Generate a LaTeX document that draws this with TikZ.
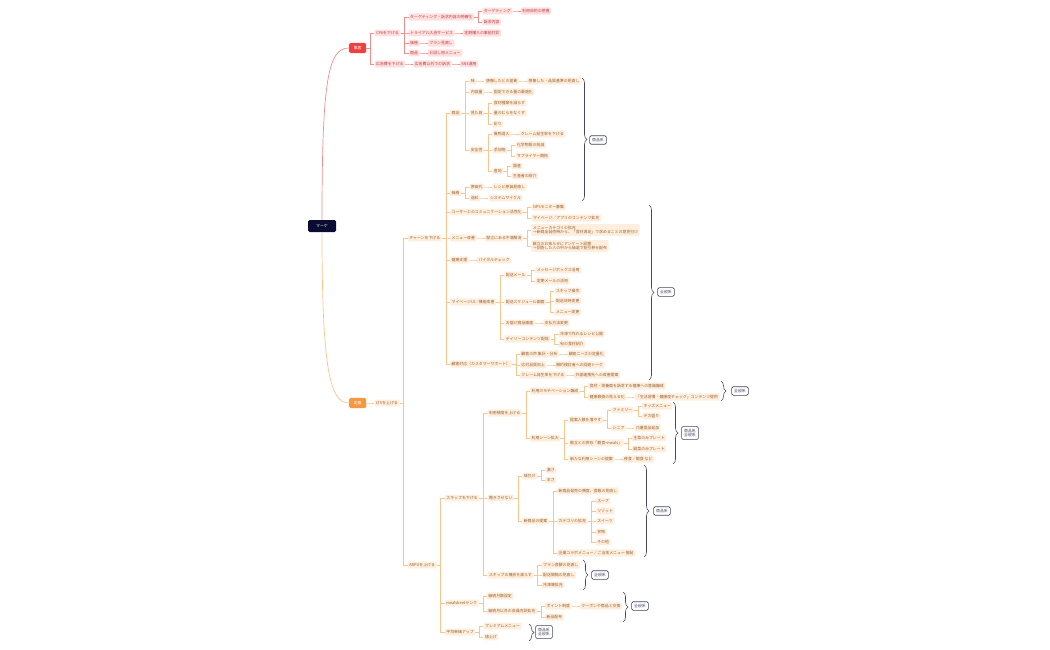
\documentclass[tikz,border=0pt]{standalone}
\usepackage{fontspec}
\setmainfont{Noto Sans CJK JP}
\usepackage{xcolor}
\usetikzlibrary{calc,decorations.pathreplacing}

\definecolor{redmain}{RGB}{238,64,64}
\definecolor{redfill}{RGB}{255,224,224}
\definecolor{redtext}{RGB}{190,60,60}
\definecolor{redline}{RGB}{245,140,140}
\definecolor{ormain}{RGB}{246,152,62}
\definecolor{orfill}{RGB}{254,238,222}
\definecolor{ortext}{RGB}{150,95,45}
\definecolor{orline}{RGB}{250,196,142}
\definecolor{navy}{RGB}{10,12,52}
\definecolor{tagline}{RGB}{70,70,100}

\tikzset{
  rb/.style={fill=redfill, text=redtext, rounded corners=1pt, inner xsep=1.5pt, inner ysep=1.7pt, anchor=west},
  ob/.style={fill=orfill, text=ortext, rounded corners=1pt, inner xsep=1.5pt, inner ysep=1.7pt, anchor=west, align=left},
  rb line/.style={draw=redline, line width=.45pt},
  ob line/.style={draw=orline, line width=.45pt},
  tag/.style={draw=tagline, fill=white, text=tagline, rounded corners=1.5pt, line width=.6pt, inner sep=2.5pt, align=center},
  grp/.style={draw=tagline, line width=.6pt, decorate, decoration={brace, amplitude=5pt}},
}
% child node right of its parent, joined by an elbow
\newcommand\kid[5][ob]{%
  \coordinate (tmp) at ([xshift=8pt]#3.east);
  \node[#1] (#2) at (tmp |- 0,#4) {#5};
  \draw[#1 line] (#3.east) -- ++(4pt,0) |- (#2.west);}

\begin{document}
\begin{tikzpicture}[x=1pt, y=-1pt, font=\fontsize{3.9}{4.7}\selectfont]
\useasboundingbox (0,0) rectangle (1050,650);

% root and main branches
\node[fill=navy, text=white, rounded corners=1.5pt, minimum width=28pt, minimum height=12pt] (root) at (322,226) {マーケ};
\node[fill=redmain, text=white, rounded corners=1.5pt, minimum width=17pt, minimum height=10pt, anchor=west] (A) at (349,48) {集客};
\node[fill=ormain, text=white, rounded corners=1.5pt, minimum width=17pt, minimum height=10pt, anchor=west] (B) at (349,403) {定着};
\draw[rb line, line width=.7pt] (root.north) .. controls (322,80) and (328,48) .. (A.west);
\draw[ob line, line width=.7pt] (root.south) .. controls (322,370) and (330,403) .. (B.west);

% 集客
\kid[rb]{a1}{A}{33}{CPAを下げる}
\kid[rb]{a11}{a1}{17}{ターゲティング・訴求内容の明確化}
\kid[rb]{a111}{a11}{11}{ターゲティング}
\kid[rb]{a1111}{a111}{11}{利用目的の把握}
\kid[rb]{a112}{a11}{22}{訴求内容}
\kid[rb]{a12}{a1}{33}{トライアル入会サービス}
\kid[rb]{a121}{a12}{33}{定期購入の事前打診}
\kid[rb]{a13}{a1}{43}{価格}
\kid[rb]{a131}{a13}{43}{プラン見直し}
\kid[rb]{a14}{a1}{53}{商品}
\kid[rb]{a141}{a14}{53}{お試し用メニュー}
\kid[rb]{a2}{A}{64}{広告費を下げる}
\kid[rb]{a21}{a2}{64}{広告費以外での訴求}
\kid[rb]{a211}{a21}{64}{SNS運用}

% 定着
\kid{b1}{B}{403}{LTVを上げる}
\kid{c}{b1}{238}{チャーンを下げる}
\kid{c1}{c}{113}{商品}
\kid{c11}{c1}{81}{味}
\kid{c111}{c11}{81}{想像したとの差異}
\kid{c1111}{c111}{81}{想像した・品質基準の見直し}
\kid{c12}{c1}{92}{内容量}
\kid{c121}{c12}{92}{固定できる量の最適化}
\kid{c13}{c1}{113}{見た目}
\kid{c131}{c13}{103}{食材種類を減らす}
\kid{c132}{c13}{113}{量のむらをなくす}
\kid{c133}{c13}{124}{彩り}
\kid{c14}{c1}{150}{安全性}
\kid{c141}{c14}{134}{異物混入}
\kid{c1411}{c141}{134}{クレーム発生率を下げる}
\kid{c142}{c14}{150}{添加物}
\kid{c1421}{c142}{145}{化学物質の削減}
\kid{c1422}{c142}{156}{サプライヤー開拓}
\kid{c143}{c14}{171}{産地}
\kid{c1431}{c143}{166}{国産}
\kid{c1432}{c143}{176}{生産者の紹介}
\kid{c2}{c}{193}{価格}
\kid{c21}{c2}{187}{原価代}
\kid{c211}{c21}{187}{レシピ原価見直し}
\kid{c22}{c2}{198}{送料}
\kid{c221}{c22}{198}{システムサイクル}
\kid{c3}{c}{212}{ユーザーとのコミュニケーション活性化}
\kid{c31}{c3}{207}{NPSモニター募集}
\kid{c32}{c3}{218}{マイページ／アプリのコンテンツ拡充}
\kid{c4}{c}{238}{メニュー改善}
\kid{c41}{c4}{238}{献立にある不満解消}
\kid{c411}{c41}{230}{メニューカテゴリの拡充\\→新商品発売時から、「食材満足」で求めることの意見付け}
\kid{c412}{c41}{246}{献立のお知らせにアンケート設置\\→回答した人の中から抽選で割引券を配布}
\kid{c5}{c}{260}{健康支援}
\kid{c51}{c5}{260}{バイタルチェック}
\kid{c6}{c}{302}{マイページUI／機能改善}
\kid{c61}{c6}{275}{配送メール}
\kid{c611}{c61}{270}{メッセージボックス活用}
\kid{c612}{c61}{281}{定期メールの活用}
\kid{c62}{c6}{302}{配送スケジュール画面}
\kid{c621}{c62}{291}{スキップ操作}
\kid{c622}{c62}{301}{配送日時変更}
\kid{c623}{c62}{312}{メニュー変更}
\kid{c63}{c6}{323}{お届け商品画面}
\kid{c631}{c63}{323}{支払方法変更}
\kid{c64}{c6}{339}{デイリーコンテンツ配信}
\kid{c641}{c64}{334}{冷凍で作れるレシピ公開}
\kid{c642}{c64}{344}{旬の食材紹介}
\kid{c7}{c}{364}{顧客対応（カスタマーサポート）}
\kid{c71}{c7}{354}{顧客の声 集計・分析}
\kid{c711}{c71}{354}{顧客ニーズの定量化}
\kid{c72}{c7}{365}{応対品質向上}
\kid{c721}{c72}{365}{解約検討者への回避トーク}
\kid{c73}{c7}{375}{クレーム発生率を下げる}
\kid{c731}{c73}{375}{外部連携先への改善提案}

\kid{d}{b1}{565}{ARPUを上げる}
\kid{d0}{d}{498}{スキップを下げる}
\kid{d1}{d0}{413}{利用頻度を上げる}
\kid{d11}{d1}{391}{利用のモチベーション醸成}
\kid{d111}{d11}{386}{食材・栄養面を訴求する健康への意識醸成}
\kid{d112}{d11}{397}{健康数値の見える化}
\kid{d1121}{d112}{397}{「生活習慣・健康度チェック」コンテンツ提供}
\kid{d12}{d1}{438}{利用シーン拡大}
\kid{d121}{d12}{420}{提案人数を増やす}
\kid{d1211}{d121}{410}{ファミリー}
\kid{d12111}{d1211}{406}{キッズメニュー}
\kid{d12112}{d1211}{416}{デカ盛り}
\kid{d1212}{d121}{428}{シニア}
\kid{d12121}{d1212}{428}{介護食品追加}
\kid{d122}{d12}{443}{献立との併存「朝食+meals」}
\kid{d1221}{d122}{438}{主菜のみプレート}
\kid{d1222}{d122}{449}{副菜のみプレート}
\kid{d123}{d12}{459}{新たな利用シーンの提案}
\kid{d1231}{d123}{459}{夜食／間食 など}
\kid{d2}{d0}{498}{飽きさせない}
\kid{d21}{d2}{476}{味付け}
\kid{d211}{d21}{470}{濃さ}
\kid{d212}{d21}{480}{辛さ}
\kid{d22}{d2}{521}{新商品の提案}
\kid{d221}{d22}{491}{新商品発売の頻度、食数の見直し}
\kid{d222}{d22}{521}{カテゴリの拡充}
\kid{d2221}{d222}{501}{スープ}
\kid{d2222}{d222}{511}{リゾット}
\kid{d2223}{d222}{521}{スイーツ}
\kid{d2224}{d222}{532}{丼物}
\kid{d2225}{d222}{542}{その他}
\kid{d223}{d22}{553}{企業コラボメニュー／ご当地メニュー 開発}
\kid{d3}{d0}{575}{スキップの機会を減らす}
\kid{d31}{d3}{565}{プラン食数の見直し}
\kid{d32}{d3}{575}{配送間隔の見直し}
\kid{d33}{d3}{585}{冷凍庫拡充}
\kid{e}{d}{603}{mealsheetランク}
\kid{e1}{e}{596}{継続月数設定}
\kid{e2}{e}{611}{継続月以外の会員内訳拡充}
\kid{e21}{e2}{606}{ポイント制度}
\kid{e211}{e21}{606}{クーポンや商品と交換}
\kid{e22}{e2}{617}{新品配布}
\kid{f}{d}{632}{平均単価アップ}
\kid{f1}{f}{626}{プレミアムメニュー}
\kid{f2}{f}{637}{値上げ}

% groups
\draw[grp] (582,78) -- (582,201);
\node[tag] (g1) at (598,140) {商品系};
\draw[grp] (649,205) -- (649,380);
\node[tag] (g2) at (666,292) {全般系};
\draw[grp] (721,381) -- (721,401);
\node[tag] (g3) at (740,391) {全般系};
\draw[grp] (673,402) -- (673,464);
\node[tag] (g4) at (690,433) {商品系\\全般系};
\draw[grp] (644,465) -- (644,557);
\node[tag] (g5) at (662,511) {商品系};
\draw[grp] (583,560) -- (583,590);
\node[tag] (g6) at (600,575) {全般系};
\draw[grp] (623,592) -- (623,622);
\node[tag] (g7) at (640,606) {全般系};
\draw[grp] (529,624) -- (529,641);
\node[tag] (g8) at (544,632) {商品系\\全般系};
\end{tikzpicture}
\end{document}
